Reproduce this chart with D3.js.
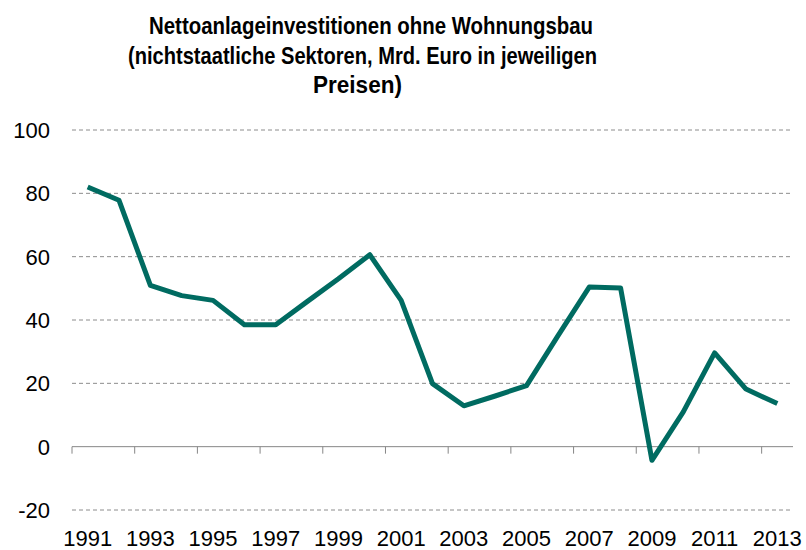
<!DOCTYPE html>
<html>
<head>
<meta charset="utf-8">
<script src="https://cdn.jsdelivr.net/npm/d3@7"></script>
<style>
  body { margin: 0; background: #fff; }
  text { font-family: "Liberation Sans", Arial, sans-serif; fill: #000; }
</style>
</head>
<body>
<svg id="chart" width="806" height="550"></svg>
<script>
// Data
const years = d3.range(1991, 2014).map(String);
const values = [82.0, 77.8, 50.9, 47.7, 46.2, 38.5, 38.5, 45.8, 53.0, 60.6,
                46.2, 19.9, 12.9, 16.0, 19.3, 35.0, 50.4, 50.1, -4.3, 11.0,
                29.6, 18.2, 13.6];
const yTicks = [-20, 0, 20, 40, 60, 80, 100];
const titleLines = [
  'Nettoanlageinvestitionen ohne Wohnungsbau',
  '(nichtstaatliche Sektoren, Mrd. Euro in jeweiligen',
  'Preisen)'
];

const svg = d3.select('#chart');
const plotLeft = 72, plotRight = 793, plotTop = 130, plotBottom = 510;

const x = d3.scaleBand().domain(years).range([plotLeft, plotRight]).paddingInner(0).paddingOuter(0);
const y = d3.scaleLinear().domain([-20, 100]).range([plotBottom, plotTop]);

// Title (condensed bold, squeezed to the widths seen in the reference)
const titleLayout = [
  { x: 149, w: 444, y: 34 },
  { x: 128, w: 469, y: 64 },
  { x: 313, w: 89, y: 93 }
];
svg.append('g').selectAll('text')
  .data(titleLines)
  .join('text')
    .attr('x', (d, i) => titleLayout[i].x)
    .attr('y', (d, i) => titleLayout[i].y)
    .attr('textLength', (d, i) => titleLayout[i].w)
    .attr('lengthAdjust', 'spacingAndGlyphs')
    .attr('font-size', '24px')
    .attr('font-weight', 'bold')
    .text(d => d);

// Gridlines (dashed), skip zero where axis line sits
svg.append('g').selectAll('line')
  .data(yTicks.filter(t => t !== 0))
  .join('line')
    .attr('x1', plotLeft).attr('x2', plotRight)
    .attr('y1', d => y(d)).attr('y2', d => y(d))
    .attr('stroke', '#8c8c8c')
    .attr('stroke-width', 1)
    .attr('stroke-dasharray', '4,3');

// Y labels
svg.append('g').selectAll('text')
  .data(yTicks)
  .join('text')
    .attr('x', 50)
    .attr('y', d => y(d))
    .attr('dy', '0.36em')
    .attr('text-anchor', 'end')
    .attr('font-size', '22px')
    .text(d => d);

// X axis at zero
const xAxisG = svg.append('g');
xAxisG.append('line')
  .attr('x1', plotLeft).attr('x2', plotRight)
  .attr('y1', y(0)).attr('y2', y(0))
  .attr('stroke', '#868686').attr('stroke-width', 1);

const tickYears = years.filter((d, i) => i % 2 === 0);
xAxisG.selectAll('line.tick')
  .data(tickYears)
  .join('line')
    .attr('class', 'tick')
    .attr('x1', d => x(d)).attr('x2', d => x(d))
    .attr('y1', y(0)).attr('y2', y(0) + 7)
    .attr('stroke', '#868686').attr('stroke-width', 1);

svg.append('g').selectAll('text')
  .data(tickYears)
  .join('text')
    .attr('x', d => x(d) + x.bandwidth() / 2)
    .attr('y', 546)
    .attr('text-anchor', 'middle')
    .attr('font-size', '22px')
    .text(d => d);

// Line
const line = d3.line()
  .x((d, i) => x(years[i]) + x.bandwidth() / 2)
  .y(d => y(d));

svg.append('path')
  .datum(values)
  .attr('d', line)
  .attr('fill', 'none')
  .attr('stroke', '#006b61')
  .attr('stroke-width', 5)
  .attr('stroke-linejoin', 'round');
</script>
</body>
</html>
